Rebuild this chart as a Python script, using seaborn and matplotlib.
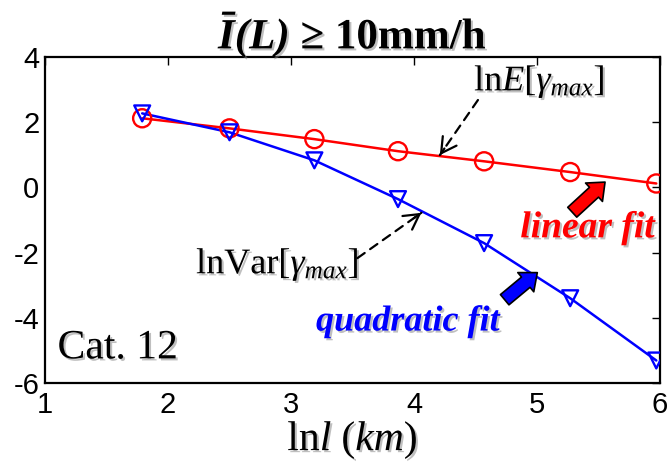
import matplotlib
matplotlib.use("Agg")
import matplotlib.pyplot as plt
import matplotlib.patheffects as pe
import pandas as pd
import seaborn as sns

# ln l (km) scales
ln_l = [1.79, 2.50, 3.19, 3.87, 4.57, 5.27, 5.97]
# ln E[gamma_max] and ln Var[gamma_max]
ln_mean = [2.12, 1.81, 1.48, 1.11, 0.80, 0.47, 0.12]
ln_var = [2.27, 1.69, 0.83, -0.36, -1.71, -3.40, -5.31]

x_ticks = [1, 2, 3, 4, 5, 6]
y_ticks = [-6, -4, -2, 0, 2, 4]

sns.set_theme(style="white")
plt.rcParams["font.family"] = ["Liberation Sans", "DejaVu Sans"]
plt.rcParams["axes.unicode_minus"] = False
plt.rcParams["mathtext.fontset"] = "custom"
plt.rcParams["mathtext.rm"] = "Liberation Serif"
plt.rcParams["mathtext.it"] = "Liberation Serif:italic"
plt.rcParams["mathtext.bf"] = "Liberation Serif:bold"
plt.rcParams["mathtext.bfit"] = "Liberation Serif:bold:italic"

df = pd.DataFrame({"x": ln_l, "mean": ln_mean, "var": ln_var})

fig = plt.figure(figsize=(6.68, 4.69), dpi=100)
ax = fig.add_axes([0.0674, 0.1834, 0.9206, 0.6951])

sns.lineplot(data=df, x="x", y="mean", color="#ff0000", lw=1.8, ax=ax)
sns.lineplot(data=df, x="x", y="var", color="#0000ff", lw=1.8, ax=ax)
sns.scatterplot(data=df, x="x", y="mean", marker="o", s=170, facecolor="none",
                edgecolor="#ff0000", linewidth=1.7, ax=ax, zorder=4)
sns.scatterplot(data=df, x="x", y="var", marker="v", s=130, facecolor="none",
                edgecolor="#0000ff", linewidth=1.7, ax=ax, zorder=4)

ax.set_xlim(1, 6)
ax.set_ylim(-6, 4)
ax.set_xticks(x_ticks)
ax.set_yticks(y_ticks)
ax.tick_params(direction="in", length=6, width=1, top=True, right=True,
               labelsize=21, pad=4, colors="black")
ax.tick_params(axis="x", pad=6)
for s in ax.spines.values():
    s.set_linewidth(1.6)
    s.set_color("black")

shadow = [pe.withSimplePatchShadow(offset=(1.5, -1.5), shadow_rgbFace="gray", alpha=0.5)]
serif = "Liberation Serif"

ax.set_xlabel(r"$\mathrm{ln}l\ (km)$", fontsize=30, labelpad=0, color="black",
              path_effects=shadow)
ax.set_ylabel("")
ax.set_title(r"$\mathbfit{\bar{I}(L)}$ ≥ 10mm/h", fontsize=31, fontweight="bold",
             family=serif, pad=6, color="black", path_effects=shadow)

ax.text(5.02, 3.23, r"$\mathrm{ln}E[\gamma_{max}]$", fontsize=26, ha="center",
        va="center", color="black", path_effects=shadow)
ax.text(2.89, -2.38, r"$\mathrm{lnVar}[\gamma_{max}]$", fontsize=26, ha="center",
        va="center", color="black", path_effects=shadow)
ax.text(5.41, -1.24, "linear fit", fontsize=27, fontweight="bold", style="italic",
        family=serif, color="#ff0000", ha="center", va="center", path_effects=shadow)
ax.text(3.95, -4.13, "quadratic fit", fontsize=26, fontweight="bold", style="italic",
        family=serif, color="#0000ff", ha="center", va="center", path_effects=shadow)
ax.text(1.59, -4.93, "Cat. 12", fontsize=30, family=serif, color="black",
        ha="center", va="center", path_effects=shadow)


def dashed_arrow(tip, tail):
    """Dashed shaft with a solid open arrowhead at the tip."""
    ax.annotate("", xy=tip, xytext=tail,
                arrowprops=dict(arrowstyle="-", color="black", lw=1.6,
                                linestyle=(0, (4, 3)), shrinkA=0, shrinkB=0))
    near = (tip[0] + 0.12 * (tail[0] - tip[0]), tip[1] + 0.12 * (tail[1] - tip[1]))
    ax.annotate("", xy=tip, xytext=near,
                arrowprops=dict(arrowstyle="->,head_length=0.9,head_width=0.5",
                                color="black", lw=1.6, shrinkA=0, shrinkB=0))


dashed_arrow((4.21, 0.99), (4.52, 2.68))
dashed_arrow((4.06, -0.78), (3.54, -2.17))

fat = dict(arrowstyle="simple,head_length=0.9,head_width=1.5,tail_width=0.8",
           lw=1.2, edgecolor="black")
ax.annotate("", xy=(5.57, 0.22), xytext=(5.27, -0.82),
            arrowprops={**fat, "facecolor": "#ff0000"})
ax.annotate("", xy=(5.02, -2.56), xytext=(4.72, -3.50),
            arrowprops={**fat, "facecolor": "#0000ff"})

fig.savefig("out.png", dpi=100)
